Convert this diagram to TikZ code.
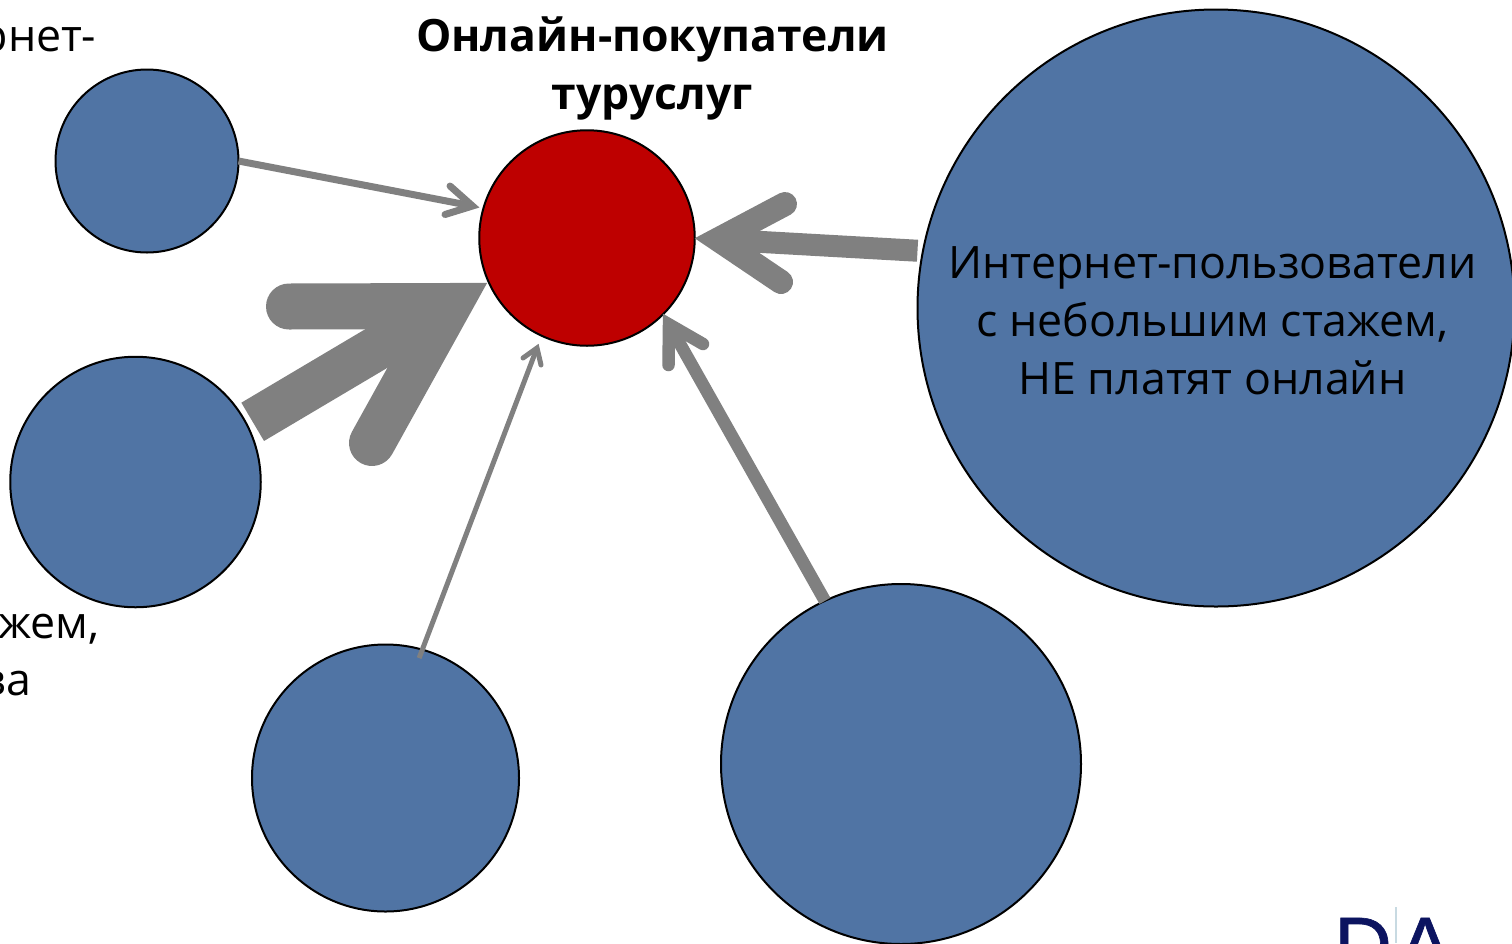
\documentclass[tikz,border=0pt]{standalone}
\usepackage{fontspec}
\setmainfont{Open Sans}
\definecolor{disc}{HTML}{5074A4}
\definecolor{core}{HTML}{BE0000}
\definecolor{ray}{HTML}{808080}
\definecolor{logoink}{HTML}{0C1460}
\definecolor{logorule}{HTML}{C8DAE2}
\newfontfamily\logofont[FakeBold=0.8]{Liberation Sans}
\tikzset{
  disc/.style={circle,draw=black,line width=2pt,fill=disc,inner sep=0pt,outer sep=0pt},
  coredisc/.style={disc,fill=core},
  shaft/.style={draw=ray,line cap=butt},
  barb/.style={draw=ray,line cap=round,line join=miter,miter limit=10},
  body/.style={font=\fontsize{44.7}{58}\selectfont,inner sep=0pt,outer sep=0pt,text=black},
  head/.style={font=\fontsize{44.5}{58}\selectfont\bfseries,inner sep=0pt,outer sep=0pt,text=black,align=center},
}
\begin{document}
\begin{tikzpicture}[x=1pt,y=-1pt]
\useasboundingbox (0,0) rectangle (1512,943);
\clip (0,0) rectangle (1512,943);
\fill[white] (0,0) rectangle (1512,943);
% hidden-line fragments at the left edge
\node[body,anchor=base east] (lefta) at (96,51) {рнет-};
\node[body,anchor=base east] (leftb) at (1.5,579) {е};
\node[body,anchor=base east] (leftc) at (99,638) {жем,};
\node[body,anchor=base east] (leftd) at (31,695) {ва};
% logo
\node[anchor=base,inner sep=0pt,text=logoink,font=\logofont\fontsize{80}{80}\selectfont] (logod) at (1363,973) {D};
\node[anchor=base,inner sep=0pt,text=logoink,font=\logofont\fontsize{80}{80}\selectfont] (logoa) at (1425,973) {A};
\coordinate (rulea) at (1396,907);
\coordinate (ruleb) at (1396,943);
\draw[logorule,line width=1.5pt] (rulea) -- (ruleb);
% circles
\node[disc,minimum size=183pt] (c1) at (147,161) {};
\node[disc,minimum size=250.5pt] (c2) at (135.5,482) {};
\node[disc,minimum size=267pt] (c3) at (385.5,778) {};
\node[disc,minimum size=360pt] (c4) at (901,764) {};
\node[disc,minimum size=597pt] (c5) at (1216,308) {};
\node[coredisc,minimum size=215.5pt] (r) at (587,238) {};
% arrow 1
\coordinate (v1) at (472.5,206);
\coordinate (b1a) at (450,186);
\coordinate (b1b) at (445,214.5);
\draw[shaft,line width=7pt] (c1.0) -- (v1);
\draw[barb,line width=7pt] (b1a) -- (v1) -- (b1b);
% arrow 2
\coordinate (v2) at (448,306);
\coordinate (b2a) at (289,306.5);
\coordinate (b2b) at (372,443);
\draw[shaft,line width=44.5pt,shorten <=6.5pt] (c2.27) -- (v2);
\draw[barb,line width=46pt] (b2a) -- (v2) -- (b2b);
% arrow 3
\coordinate (v3) at (537,348);
\coordinate (b3a) at (523,358);
\coordinate (b3b) at (541,365);
\draw[shaft,line width=5pt,shorten <=-9pt] (c3.74) -- (v3);
\draw[barb,line width=5pt] (b3a) -- (v3) -- (b3b);
% arrow 4
\coordinate (v4) at (669,324.4);
\coordinate (b4a) at (668.5,365);
\coordinate (b4b) at (703,344);
\draw[shaft,line width=12.5pt] (c4.115) -- (v4);
\draw[barb,line width=12.5pt] (b4a) -- (v4) -- (b4b);
% arrow 5
\coordinate (v5) at (718,239.5);
\coordinate (b5a) at (785,204);
\coordinate (b5b) at (781,282);
\draw[shaft,line width=22pt,shorten <=5.5pt] (c5.169) -- (v5);
\draw[barb,line width=24pt] (b5a) -- (v5) -- (b5b);
% texts
\node[head] (title) at (652.5,68) {Онлайн-покупатели\\туруслуг};
\node[body,align=center] (t5) at (1212.5,320.5) {Интернет-пользователи\\с небольшим стажем,\\НЕ платят онлайн};
\end{tikzpicture}
\end{document}
